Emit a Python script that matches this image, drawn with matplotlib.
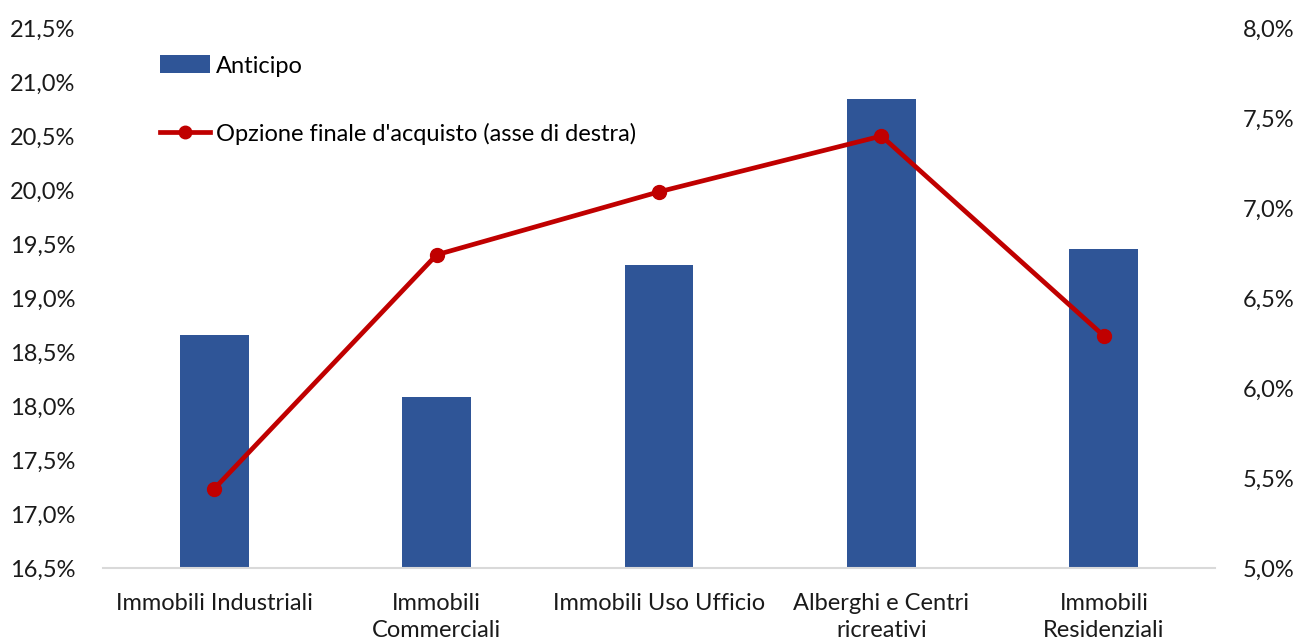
import matplotlib
matplotlib.use("Agg")
import matplotlib.pyplot as plt
from matplotlib.ticker import FuncFormatter
from matplotlib.lines import Line2D
from matplotlib.patches import Patch

categories = ["Immobili Industriali", "Immobili\nCommerciali", "Immobili Uso Ufficio",
              "Alberghi e Centri\nricreativi", "Immobili\nResidenziali"]
anticipo = [18.66, 18.08, 19.31, 20.84, 19.45]
opzione_finale = [5.44, 6.74, 7.09, 7.40, 6.29]
left_ticks = [16.5, 17.0, 17.5, 18.0, 18.5, 19.0, 19.5, 20.0, 20.5, 21.0, 21.5]
right_ticks = [5.0, 5.5, 6.0, 6.5, 7.0, 7.5, 8.0]

plt.rcParams["font.family"] = ["Lato", "DejaVu Sans"]

bar_color = "#2F5597"
line_color = "#C00000"
fs = 17

fig = plt.figure(figsize=(12.97, 6.44), dpi=100)
ax = fig.add_axes([0.0794, 0.118, 0.8574, 0.8385])
ax2 = ax.twinx()

x = list(range(len(categories)))
ax.bar(x, anticipo, width=0.31, color=bar_color, zorder=2)
ax2.plot(x, opzione_finale, color=line_color, lw=3.4, marker="o", markersize=10,
         solid_capstyle="round", zorder=3)

ax.set_xlim(-0.5, len(categories) - 0.5)
ax.set_ylim(16.5, 21.5)
ax2.set_ylim(5.0, 8.0)
ax.set_yticks(left_ticks)
ax2.set_yticks(right_ticks)

pct = FuncFormatter(lambda v, _: f"{v:.1f}%".replace(".", ","))
ax.yaxis.set_major_formatter(pct)
ax2.yaxis.set_major_formatter(pct)

ax.set_xticks(x)
ax.set_xticklabels(categories, fontsize=fs, linespacing=1.35)

for a in (ax, ax2):
    for side in ("top", "left", "right", "bottom"):
        a.spines[side].set_visible(False)
    a.tick_params(length=0, labelsize=fs, colors="#1a1a1a")
ax.spines["bottom"].set_visible(True)
ax.spines["bottom"].set_color("#D9D9D9")
ax.spines["bottom"].set_linewidth(1.5)
ax.tick_params(axis="y", pad=20)
ax.tick_params(axis="x", pad=18)
ax2.tick_params(axis="y", pad=20)

handles = [Patch(facecolor=bar_color, edgecolor="none"),
           Line2D([0], [0], color=line_color, lw=3.4, marker="o", markersize=9)]
labels = ["Anticipo", "Opzione finale d'acquisto (asse di destra)"]
fig.legend(handles, labels, loc="upper left", bbox_to_anchor=(0.118, 0.925),
           frameon=False, fontsize=fs, handlelength=2.1, handletextpad=0.25,
           labelspacing=1.95, handleheight=0.8, borderaxespad=0, borderpad=0.3)

fig.savefig("out.png", dpi=100)
